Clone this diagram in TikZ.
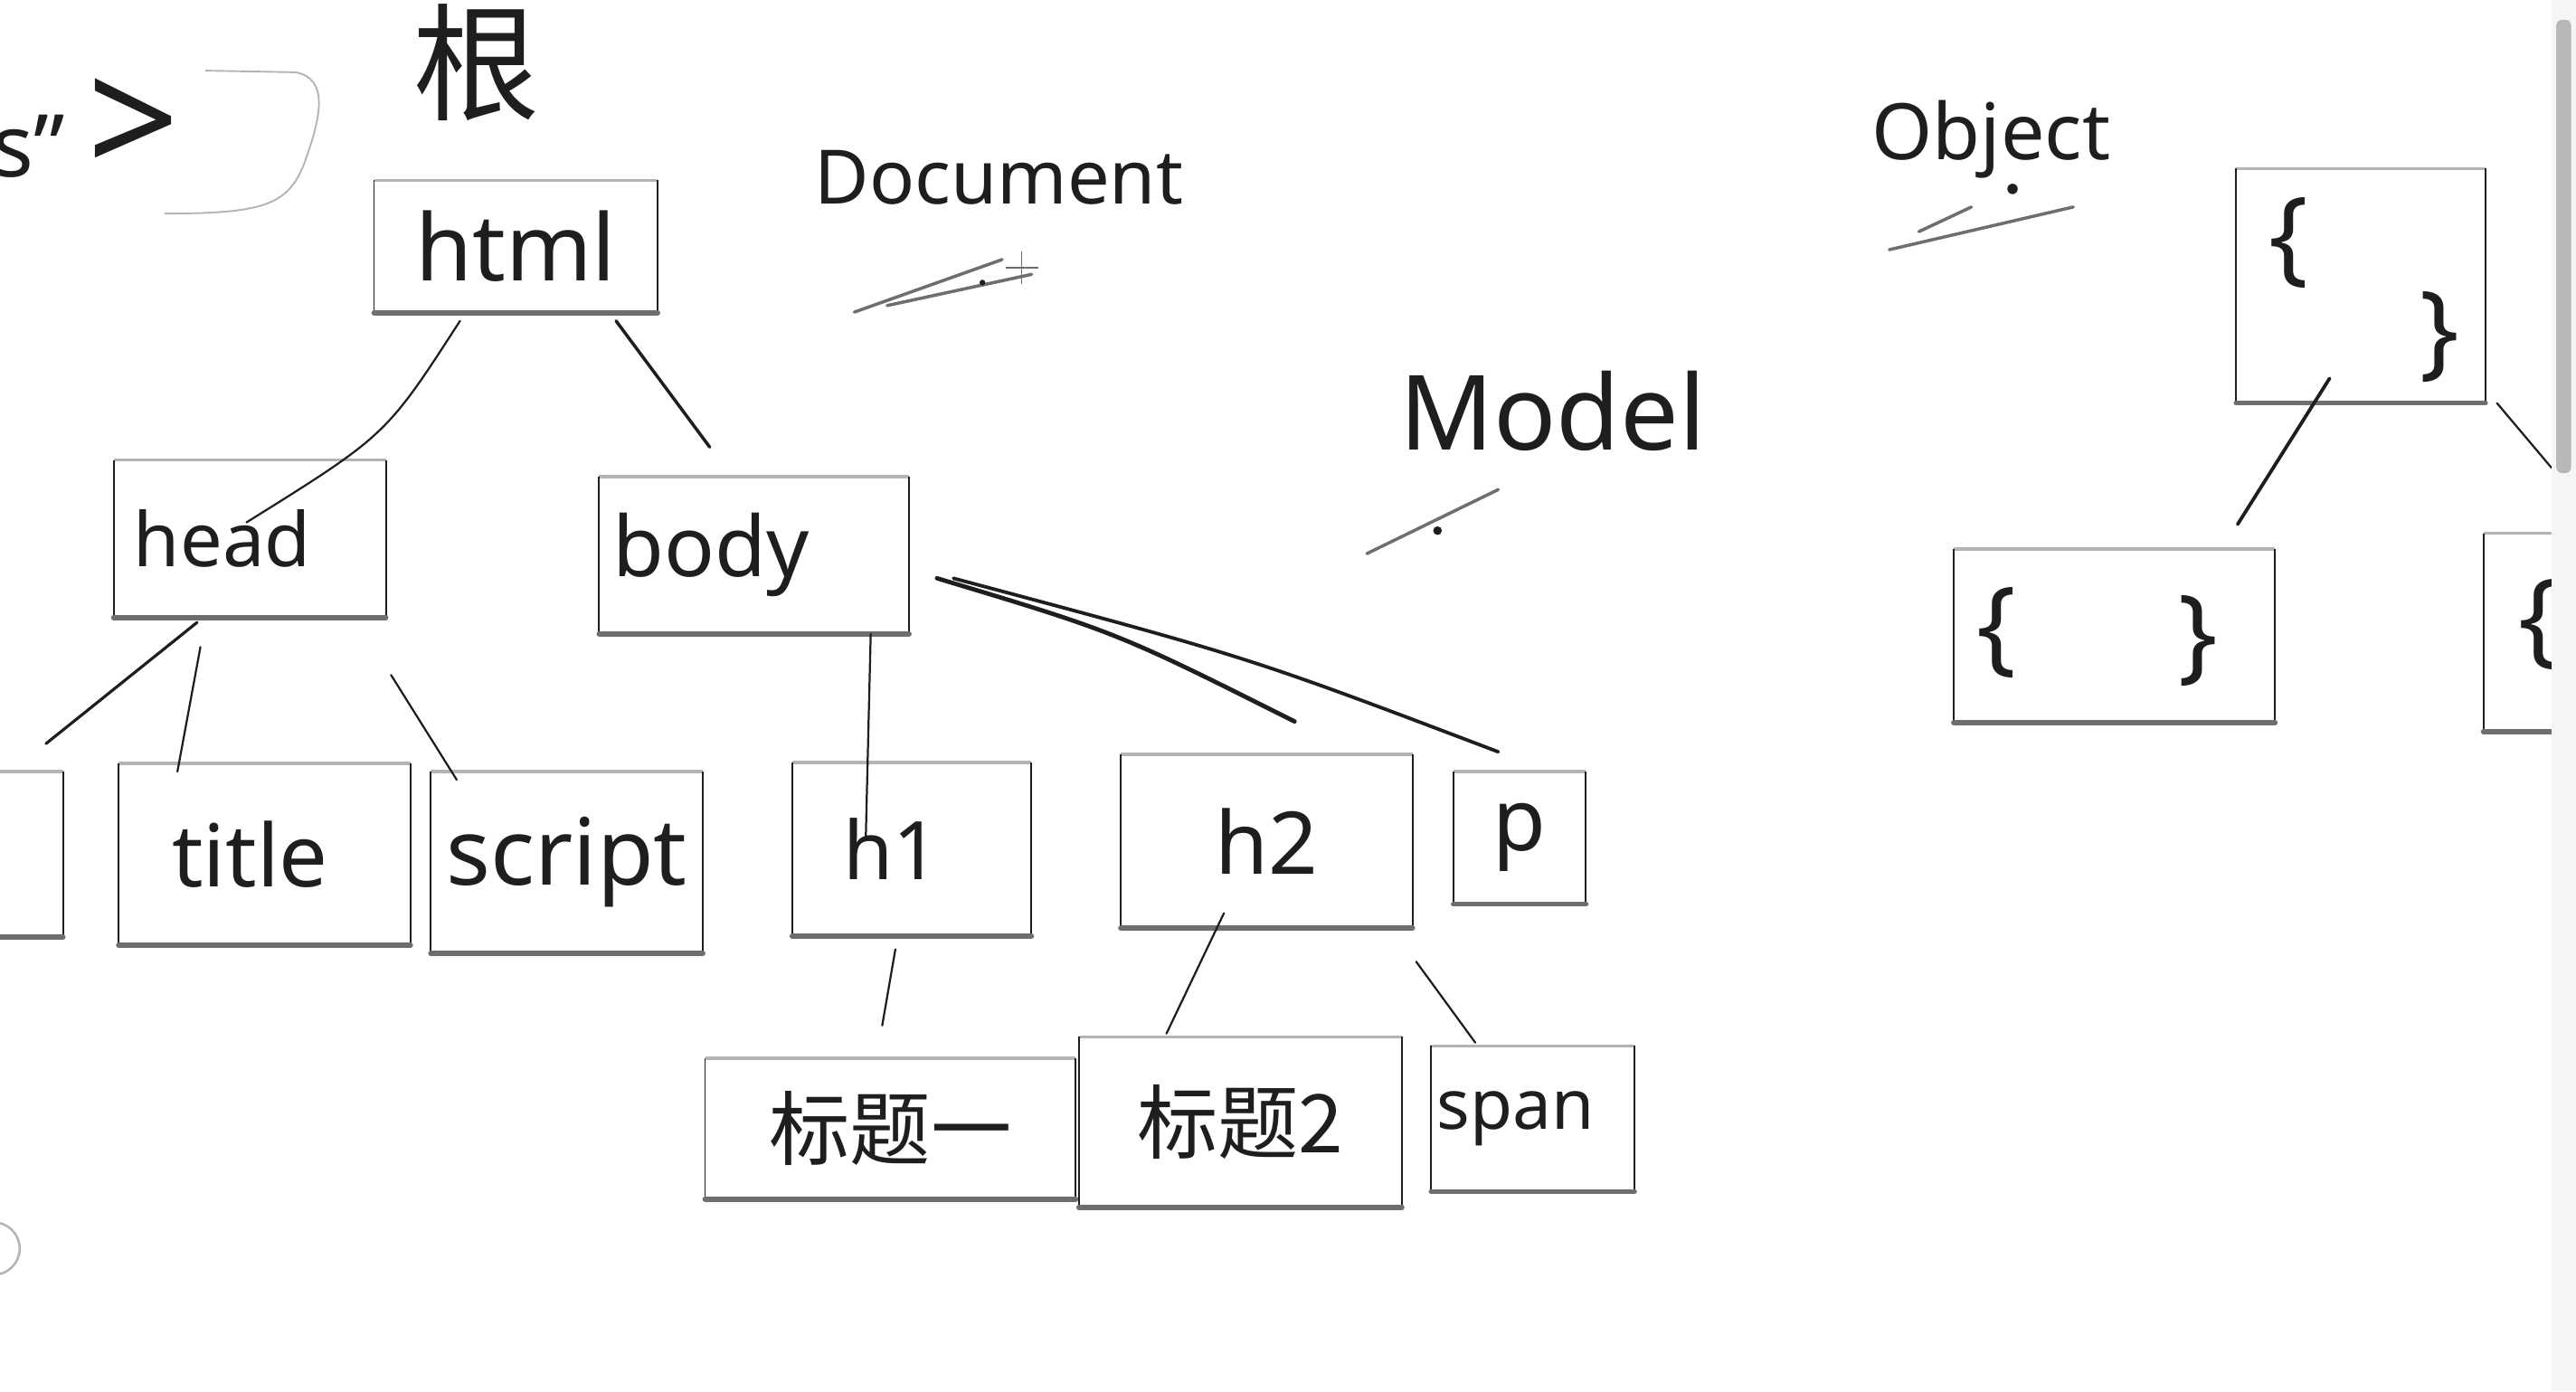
\documentclass[tikz,border=0pt]{standalone}
\usepackage{fontspec}
\setmainfont{Noto Sans}
\newfontfamily\cjk{Noto Sans CJK SC}
\usetikzlibrary{calc}
\definecolor{ink}{RGB}{30,30,30}
\definecolor{pencil}{RGB}{110,110,110}
\definecolor{faint}{RGB}{180,180,180}

\begin{document}
\begin{tikzpicture}[x=0.02cm,y=-0.02cm,
  tag/.style={inner sep=0pt,text=ink},
  fs/.style={font=\fontsize{#1}{#1}\selectfont},
  link/.style={ink,line width=0.7pt,line cap=round},
  topedge/.style={faint,line width=1pt},
  sideedge/.style={ink,line width=0.6pt},
  botedge/.style={pencil,line width=1.8pt,line cap=round}]
\useasboundingbox (0,0) rectangle (1568,847);

% headings and loose strokes
\node[tag,fs=44] (root) at (290,38) {\cjk 根};
\node[tag,fs=30,anchor=east] (tail) at (110,78) {s"\hspace{8pt}{\fontsize{56}{56}\selectfont >}};
\node[tag,fs=26] (doc) at (608,108) {Document};
\node[tag,fs=36] (model) at (945,250) {Model};
\node[tag,fs=27] (obj) at (1212,85) {Object};
\draw[faint,line width=0.6pt] (125,43) -- (180,44) .. controls (200,48) and (196,70) .. (185,100) .. controls (175,125) and (160,130) .. (100,130);
\draw[pencil,line width=1.1pt,line cap=round] (520,190) -- (610,158) (540,186) -- (628,167);
\draw[pencil,line width=0.4pt] (612,163) -- (632,163) (622,153) -- (622,173);
\draw[pencil,line width=1.1pt,line cap=round] (832,337) -- (912,298);
\fill[ink] (875,323) circle (1.5pt) (598,172) circle (1pt) (1225,115) circle (1.8pt);
\draw[pencil,line width=1.1pt,line cap=round] (1150,152) -- (1262,126) (1168,141) -- (1200,126);
\draw[faint,line width=0.8pt] (-4,760) circle (0.32cm);

% tree boxes
\node[tag,fs=32,minimum width=3.44cm,minimum height=1.6cm] (html) at (314,150) {html};
\node[tag,fs=26,minimum width=3.3cm,minimum height=1.9cm] (head) at (152,328) {head\hspace*{19pt}};
\node[tag,fs=29,minimum width=3.76cm,minimum height=1.9cm] (body) at (459,338) {body\hspace*{30pt}};
\node[tag,minimum width=1.96cm,minimum height=2cm] (meta) at (-11,520) {};
\node[tag,fs=30,minimum width=3.54cm,minimum height=2.2cm] (title) at (161,520) {title\hspace*{10pt}};
\node[tag,fs=32,minimum width=3.3cm,minimum height=2.2cm] (script) at (345,525) {script};
\node[tag,fs=28,minimum width=2.9cm,minimum height=2.1cm] (h1) at (555,517) {h1\hspace*{14pt}};
\node[tag,fs=30,minimum width=3.54cm,minimum height=2.1cm] (h2) at (771,512) {h2};
\node[tag,fs=30,minimum width=1.6cm,minimum height=1.6cm] (p) at (925,510) {p};
\node[tag,fs=28,minimum width=4.5cm,minimum height=1.7cm] (t1) at (542,687) {\cjk 标题一};
\node[tag,fs=28,minimum width=3.92cm,minimum height=2.06cm] (t2) at (755,683) {\cjk 标题2};
\node[tag,fs=24,minimum width=2.46cm,minimum height=1.76cm] (span) at (933,681) {span\hspace*{12pt}};

% object boxes
\node[tag,minimum width=3.02cm,minimum height=2.84cm] (ob) at (1437,174) {};
\node[tag,minimum width=3.9cm,minimum height=2.1cm] (obl) at (1287,387) {};
\node[tag,minimum width=1.76cm,minimum height=2.4cm] (obr) at (1556,385) {};
\node[tag,fs=36] (obA) at (1393,148) {\{};
\node[tag,fs=36] (obB) at (1485,205) {\}};
\node[tag,fs=36] (oblA) at (1215,385) {\{};
\node[tag,fs=36] (oblB) at (1338,390) {\}};
\node[tag,fs=36] (obrA) at (1545,380) {\{};

\foreach \n in {html,head,body,meta,title,script,h1,h2,p,t1,t2,span,ob,obl,obr} {
  \draw[topedge] (\n.north west) -- (\n.north east);
  \draw[sideedge] (\n.north west) -- (\n.south west) (\n.north east) -- (\n.south east);
  \draw[botedge] (\n.south west) -- (\n.south east);
}

% links
\draw[link] ($(html.south)+(-34,5)$) .. controls (235,265) .. ($(head.center)+(-2,-10)$);
\draw[link,line width=1.1pt] ($(html.south)+(61,5)$) -- ($(body.north)+(-27,-18)$);
\draw[link,line width=1pt] ($(head.south)+(-32,3)$) -- ($(meta.north)+(39,-17)$);
\draw[link] ($(head.south)+(-30,18)$) -- ($(title.north)+(-53,5)$);
\draw[link] ($(head.south)+(86,35)$) -- ($(script.north)+(-67,5)$);
\draw[link] ($(body.south)+(71,0)$) -- ($(h1.center)+(-28,-7)$);
\draw[link,line width=1.5pt] ($(body.east)+(17,14)$) .. controls (680,385) .. ($(h2.north)+(17,-20)$);
\draw[link,line width=1.2pt] ($(body.east)+(27,14)$) .. controls (760,400) .. ($(p.north)+(-13,-12)$);
\draw[link] ($(h1.south)+(-10,8)$) -- ($(t1.north)+(-5,-20)$);
\draw[link] ($(h2.south)+(-26,-9)$) -- ($(t2.north)+(-45,-2)$);
\draw[link] ($(p.south)+(-63,35)$) -- ($(span.north)+(-35,-2)$);
\draw[link,line width=1.2pt] ($(ob.south)+(-19,-15)$) -- ($(obl.north)+(75,-15)$);
\draw[link] ($(ob.south east)+(7,0)$) -- ($(obr.north)+(-3,-40)$);

% scroll bar
\fill[black!4] (1553,0) rectangle (1568,847);
\fill[black!28,rounded corners=2pt] (1556,12) rectangle (1565,288);
\end{tikzpicture}
\end{document}
